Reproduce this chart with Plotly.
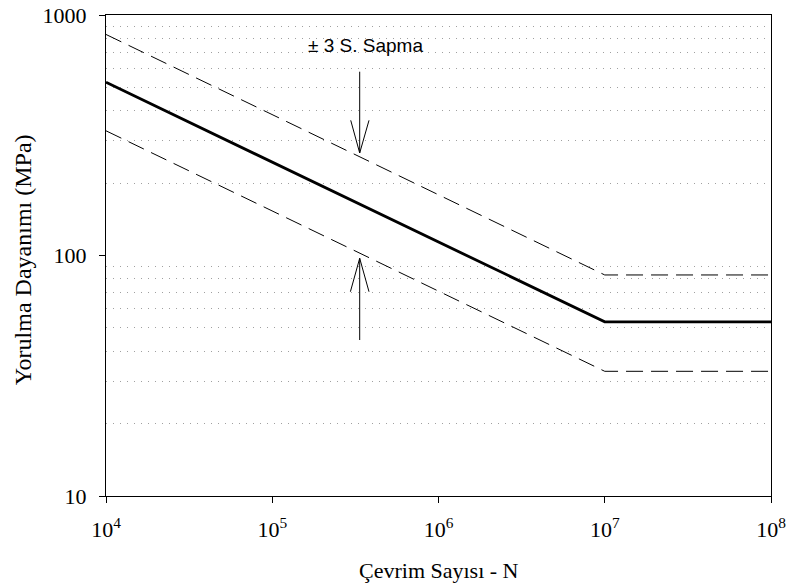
import plotly.graph_objects as go

# ---- data ----
cycles = [1e4, 1e7, 1e8]
mean_strength = [525, 53, 53]
upper_strength = [830, 83, 83]
lower_strength = [330, 33, 33]

x_tickvals = [1e4, 1e5, 1e6, 1e7, 1e8]
x_ticktext = ["10<sup>4</sup>", "10<sup>5</sup>", "10<sup>6</sup>", "10<sup>7</sup>", "10<sup>8</sup>"]
y_tickvals = [10, 100, 1000]
y_ticktext = ["10", "100", "1000"]
y_minor_vals = [20, 30, 40, 50, 60, 70, 80, 90, 200, 300, 400, 500, 600, 700, 800, 900]

serif = "Liberation Serif, Times New Roman, serif"
sans = "Liberation Sans, Arial, sans-serif"

fig = go.Figure()
fig.add_trace(go.Scatter(x=cycles, y=upper_strength, mode="lines",
                         line=dict(color="black", width=1, dash="17px,8px"), showlegend=False))
fig.add_trace(go.Scatter(x=cycles, y=lower_strength, mode="lines",
                         line=dict(color="black", width=1, dash="17px,8px"), showlegend=False))
fig.add_trace(go.Scatter(x=cycles, y=mean_strength, mode="lines",
                         line=dict(color="black", width=2.8), showlegend=False))

axis_common = dict(showline=True, linecolor="black", linewidth=1, mirror=True,
                   ticks="outside", ticklen=6, tickcolor="black", tickwidth=1,
                   showgrid=False, zeroline=False, automargin=False,
                   tickfont=dict(family=serif, size=22, color="black"))

fig.update_xaxes(type="log", range=[4, 8], tickmode="array",
                 tickvals=x_tickvals, ticktext=x_ticktext,
                 ticklabelstandoff=8, **axis_common)
fig.update_yaxes(type="log", range=[1, 3], tickmode="array",
                 tickvals=y_tickvals, ticktext=y_ticktext,
                 ticklabelstandoff=8,
                 minor=dict(tickmode="array", tickvals=y_minor_vals, ticks="",
                            showgrid=True, gridcolor="#a0a0a0", gridwidth=1,
                            griddash="1px,6px"),
                 **axis_common)

# axis titles as annotations
fig.add_annotation(text="Çevrim Sayısı - N", xref="paper", yref="paper",
                   x=0.5, y=-0.154, showarrow=False,
                   font=dict(family=serif, size=22, color="black"),
                   xanchor="center", yanchor="middle")
fig.add_annotation(text="Yorulma Dayanımı (MPa)", xref="paper", yref="paper",
                   x=-0.1248, y=0.49, showarrow=False, textangle=-90,
                   font=dict(family=serif, size=24, color="black"),
                   xanchor="center", yanchor="middle")

# label and arrows
fig.add_annotation(text="± 3 S. Sapma", xref="paper", yref="paper",
                   x=0.3895, y=0.936, showarrow=False,
                   font=dict(family=sans, size=19, color="black"),
                   xanchor="center", yanchor="middle")

arrow_x = 0.3815
line_style = dict(color="black", width=1)
shapes = [
    # down arrow
    dict(type="line", xref="paper", yref="paper", x0=arrow_x, y0=0.8821, x1=arrow_x, y1=0.7131, line=line_style),
    dict(type="line", xref="paper", yref="paper", x0=0.3680, y0=0.7810, x1=arrow_x, y1=0.7131, line=line_style),
    dict(type="line", xref="paper", yref="paper", x0=0.3955, y0=0.7810, x1=arrow_x, y1=0.7131, line=line_style),
    # up arrow
    dict(type="line", xref="paper", yref="paper", x0=arrow_x, y0=0.3243, x1=arrow_x, y1=0.4942, line=line_style),
    dict(type="line", xref="paper", yref="paper", x0=0.3675, y0=0.4247, x1=arrow_x, y1=0.4942, line=line_style),
    dict(type="line", xref="paper", yref="paper", x0=0.3955, y0=0.4247, x1=arrow_x, y1=0.4942, line=line_style),
]
fig.update_layout(shapes=shapes)

fig.update_layout(width=789, height=587,
                  margin=dict(l=106, r=18, t=15, b=91, autoexpand=False),
                  paper_bgcolor="white", plot_bgcolor="white",
                  showlegend=False)

# remove the page's default body margin so the figure sits at the window origin
fig.write_html("out.html",
               config={"displayModeBar": False},
               post_script="document.body.style.margin='0';document.body.style.overflow='hidden';")
